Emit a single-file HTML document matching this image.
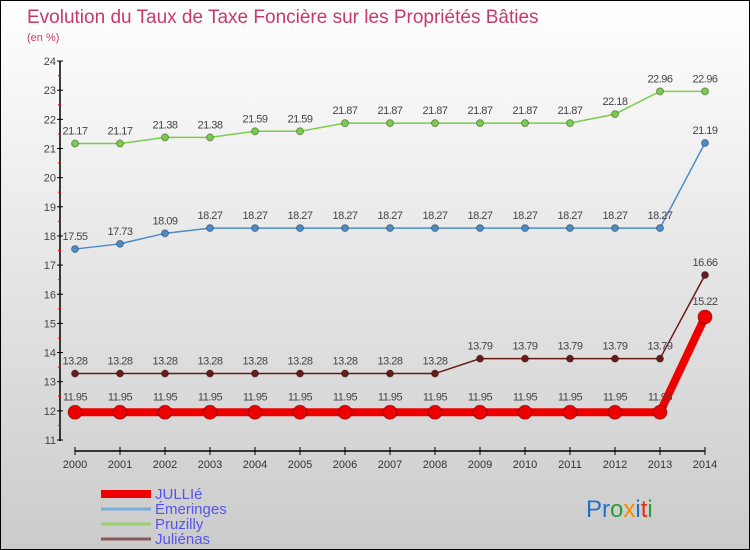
<!DOCTYPE html>
<html><head><meta charset="utf-8"><style>
body{margin:0}
#c{width:748px;height:548px;border:1px solid #000;background:linear-gradient(#fff,#cbcbcb);position:relative;font-family:"Liberation Sans",sans-serif;overflow:hidden}
</style></head><body>
<div id="c">
<svg id="s" width="748" height="548" xmlns="http://www.w3.org/2000/svg">
<text x="26" y="22" font-size="19" fill="#c8386a">Evolution du Taux de Taxe Foncière sur les Propriétés Bâties</text>
<text x="26" y="40" font-size="11" fill="#c8386a">(en %)</text>
<text x="585" y="516" font-size="24" font-family="Liberation Sans"><tspan fill="#1e73c8">Pr</tspan><tspan fill="#2e9a3a">o</tspan><tspan fill="#f08c00">x</tspan><tspan fill="#1e73c8">i</tspan><tspan fill="#e03010">t</tspan><tspan fill="#2e9a3a">i</tspan></text>
</svg>
</div>
<script>
const years=[2000,2001,2002,2003,2004,2005,2006,2007,2008,2009,2010,2011,2012,2013,2014];
const yTicks=[11,12,13,14,15,16,17,18,19,20,21,22,23,24];
const jullie=[11.95,11.95,11.95,11.95,11.95,11.95,11.95,11.95,11.95,11.95,11.95,11.95,11.95,11.95,15.22];
const emeringes=[17.55,17.73,18.09,18.27,18.27,18.27,18.27,18.27,18.27,18.27,18.27,18.27,18.27,18.27,21.19];
const pruzilly=[21.17,21.17,21.38,21.38,21.59,21.59,21.87,21.87,21.87,21.87,21.87,21.87,22.18,22.96,22.96];
const julienas=[13.28,13.28,13.28,13.28,13.28,13.28,13.28,13.28,13.28,13.79,13.79,13.79,13.79,13.79,16.66];
const NS="http://www.w3.org/2000/svg",s=document.getElementById('s');
const X=i=>74+i*45, Y=v=>439-(v-11)*29.15;
function el(t,a,p){const e=document.createElementNS(NS,t);for(const k in a)e.setAttribute(k,a[k]);(p||s).appendChild(e);return e;}
let ax=el('line',{x1:59,y1:60,x2:59,y2:440,stroke:'#000','stroke-width':1.5});


yTicks.forEach(v=>{const y=Y(v);
 el('line',{x1:56,y1:y,x2:62,y2:y,stroke:'#000'});
 if(v<24)el('line',{x1:57,y1:y-14.6,x2:60,y2:y-14.6,stroke:'#e00'});
 const t=el('text',{x:55,y:y+4,'text-anchor':'end','font-size':11,fill:'#444'});t.textContent=v;
 
 
});
let xa=el('line',{x1:74,y1:450,x2:704,y2:450,stroke:'#000','stroke-width':1.5});


years.forEach((yr,i)=>{el('line',{x1:X(i),y1:446,x2:X(i),y2:454,stroke:'#000'});
 const t=el('text',{x:X(i),y:467,'text-anchor':'middle','font-size':11,fill:'#333'});t.textContent=yr;
 
 
});
function series(d,color,w,r,name,labOff){
 const g=el('g',{});
 
 
 el('polyline',{points:d.map((v,i)=>X(i)+','+Y(v)).join(' '),fill:'none',stroke:color,'stroke-width':w},g);
 d.forEach((v,i)=>{const c=el('circle',{cx:X(i),cy:Y(v),r:r,fill:color,stroke:'rgba(0,0,0,0.35)','stroke-width':1},g);
  
  
  const t=el('text',{x:X(i),y:Y(v)-labOff,'text-anchor':'middle','font-size':11,fill:'#444','letter-spacing':'-0.5'},g);t.textContent=v;
  
  
 });
}
series(pruzilly,'#7ccc4c',1.5,3.5,'pruzilly',9);
series(emeringes,'#4a8cc8',1.5,3.5,'emeringes',9);
series(julienas,'#6b1a1a',1.5,3.5,'julienas',9);
series(jullie,'#ee0000',8,7,'jullie',12);
const leg=[['JULLIé','#ee0000',8],['Émeringes','#7aaed6',3],['Pruzilly','#9ad070',3],['Juliénas','#8a5a5a',3]];
leg.forEach((l,i)=>{const y=493+i*15;
 const g=el('g',{});
 
 
 el('line',{x1:100,y1:y,x2:150,y2:y,stroke:l[1],'stroke-width':l[2]},g);
 const t=el('text',{x:154,y:y+5,'font-size':15,fill:'#5555ee'},g);t.textContent=l[0];
});
</script>
</body></html>
